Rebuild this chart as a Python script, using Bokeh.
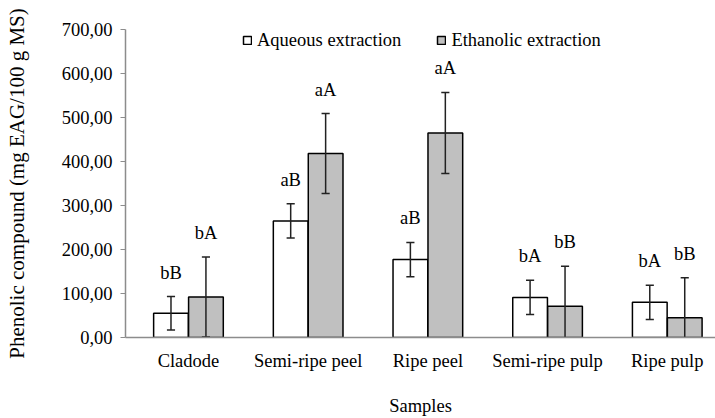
from bokeh.plotting import figure
from bokeh.models import Range1d, FixedTicker, ColumnDataSource, Legend, LegendItem
from bokeh.core.properties import value
from bokeh.embed import file_html
from bokeh.resources import INLINE

categories = ["Cladode", "Semi-ripe peel", "Ripe peel", "Semi-ripe pulp", "Ripe pulp"]
aqueous = [55, 265, 177, 91, 80]
aqueous_err = [38, 39, 39, 39, 39]
ethanolic = [92, 418, 465, 71, 45]
ethanolic_err = [91, 91, 92, 91, 91]
aqueous_letters = ["bB", "aB", "aB", "bA", "bA"]
ethanolic_letters = ["bA", "aA", "aA", "bB", "bB"]
y_ticks = [0, 100, 200, 300, 400, 500, 600, 700]
y_tick_labels = ["0,00", "100,00", "200,00", "300,00", "400,00", "500,00", "600,00", "700,00"]

FONT = "Liberation Serif"
FS = "18.5px"
BW = 0.29
OFF = 0.146

p = figure(width=715, height=418, output_backend="svg", toolbar_location=None,
           x_range=Range1d(-0.026, 4.903), y_range=Range1d(0, 700),
           min_border_left=125, min_border_right=0, min_border_top=29, min_border_bottom=81)
p.outline_line_color = None
p.xgrid.visible = False
p.ygrid.visible = False
p.background_fill_color = "white"
p.border_fill_color = "white"

centers = [i + 0.5 for i in range(len(categories))]
xa = [c - OFF for c in centers]
xe = [c + OFF for c in centers]

src_a = ColumnDataSource(dict(x=xa, top=aqueous,
                              up=[v + e for v, e in zip(aqueous, aqueous_err)],
                              lo=[v - e for v, e in zip(aqueous, aqueous_err)],
                              lab=aqueous_letters))
src_e = ColumnDataSource(dict(x=xe, top=ethanolic,
                              up=[v + e for v, e in zip(ethanolic, ethanolic_err)],
                              lo=[v - e for v, e in zip(ethanolic, ethanolic_err)],
                              lab=ethanolic_letters))

ra = p.vbar(x="x", top="top", width=BW, source=src_a, fill_color="white",
            line_color="black", line_width=1.5)
re = p.vbar(x="x", top="top", width=BW, source=src_e, fill_color="#c0c0c0",
            line_color="black", line_width=1.5)

CAP = 0.034
for src in (src_a, src_e):
    d = src.data
    p.segment(x0="x", y0="lo", x1="x", y1="up", source=src, line_color="#222222", line_width=1.5)
    cs = ColumnDataSource(dict(x0=[x - CAP for x in d["x"]], x1=[x + CAP for x in d["x"]],
                               up=d["up"], lo=d["lo"]))
    p.segment(x0="x0", y0="up", x1="x1", y1="up", source=cs, line_color="#222222", line_width=1.5)
    p.segment(x0="x0", y0="lo", x1="x1", y1="lo", source=cs, line_color="#222222", line_width=1.5)
    p.text(x="x", y="up", text="lab", source=src, text_font=value(FONT), text_font_size=FS,
           text_align="center", text_baseline="middle", y_offset=-24, text_color="black")

# x axis
p.xaxis.ticker = FixedTicker(ticks=centers)
p.xaxis.major_label_overrides = {c: n for c, n in zip(centers, categories)}
p.xaxis.major_tick_out = 0
p.xaxis.major_tick_in = 0
p.xaxis.minor_tick_out = 0
p.xaxis.minor_tick_in = 0
p.xaxis.axis_line_color = "#8c8c8c"
p.xaxis.axis_line_width = 1.5
p.xaxis.major_label_standoff = 13
p.xaxis.major_label_text_font = FONT
p.xaxis.major_label_text_font_size = FS
p.xaxis.major_label_text_color = "black"
p.xaxis.axis_label = "Samples"
p.xaxis.axis_label_text_font = FONT
p.xaxis.axis_label_text_font_size = FS
p.xaxis.axis_label_text_font_style = "normal"
p.xaxis.axis_label_text_color = "black"
p.xaxis.axis_label_standoff = 22

# y axis
p.yaxis.ticker = FixedTicker(ticks=y_ticks)
p.yaxis.major_label_overrides = {t: s for t, s in zip(y_ticks, y_tick_labels)}
p.yaxis.minor_tick_out = 0
p.yaxis.minor_tick_in = 0
p.yaxis.major_tick_in = 0
p.yaxis.major_tick_out = 5
p.yaxis.axis_line_color = "#8c8c8c"
p.yaxis.major_tick_line_color = "#8c8c8c"
p.yaxis.axis_line_width = 1.5
p.yaxis.major_label_standoff = 8
p.yaxis.major_label_text_font = FONT
p.yaxis.major_label_text_font_size = FS
p.yaxis.major_label_text_color = "black"
p.yaxis.axis_label = "Phenolic compound (mg EAG/100 g MS)"
p.yaxis.axis_label_text_font = FONT
p.yaxis.axis_label_text_font_size = "21px"
p.yaxis.axis_label_text_font_style = "normal"
p.yaxis.axis_label_text_color = "black"
p.yaxis.axis_label_standoff = 30

legend = Legend(items=[LegendItem(label="Aqueous extraction", renderers=[ra]),
                       LegendItem(label="Ethanolic extraction", renderers=[re])],
                location=(117, 286), orientation="horizontal")
legend.border_line_color = None
legend.background_fill_alpha = 0
legend.padding = 0
legend.margin = 0
legend.spacing = 35
legend.glyph_width = 10
legend.glyph_height = 10
legend.label_height = 22
legend.label_standoff = 5
legend.label_text_font = FONT
legend.label_text_font_size = FS
legend.label_text_color = "black"
p.add_layout(legend)

open("out.html", "w").write(file_html(p, INLINE))
